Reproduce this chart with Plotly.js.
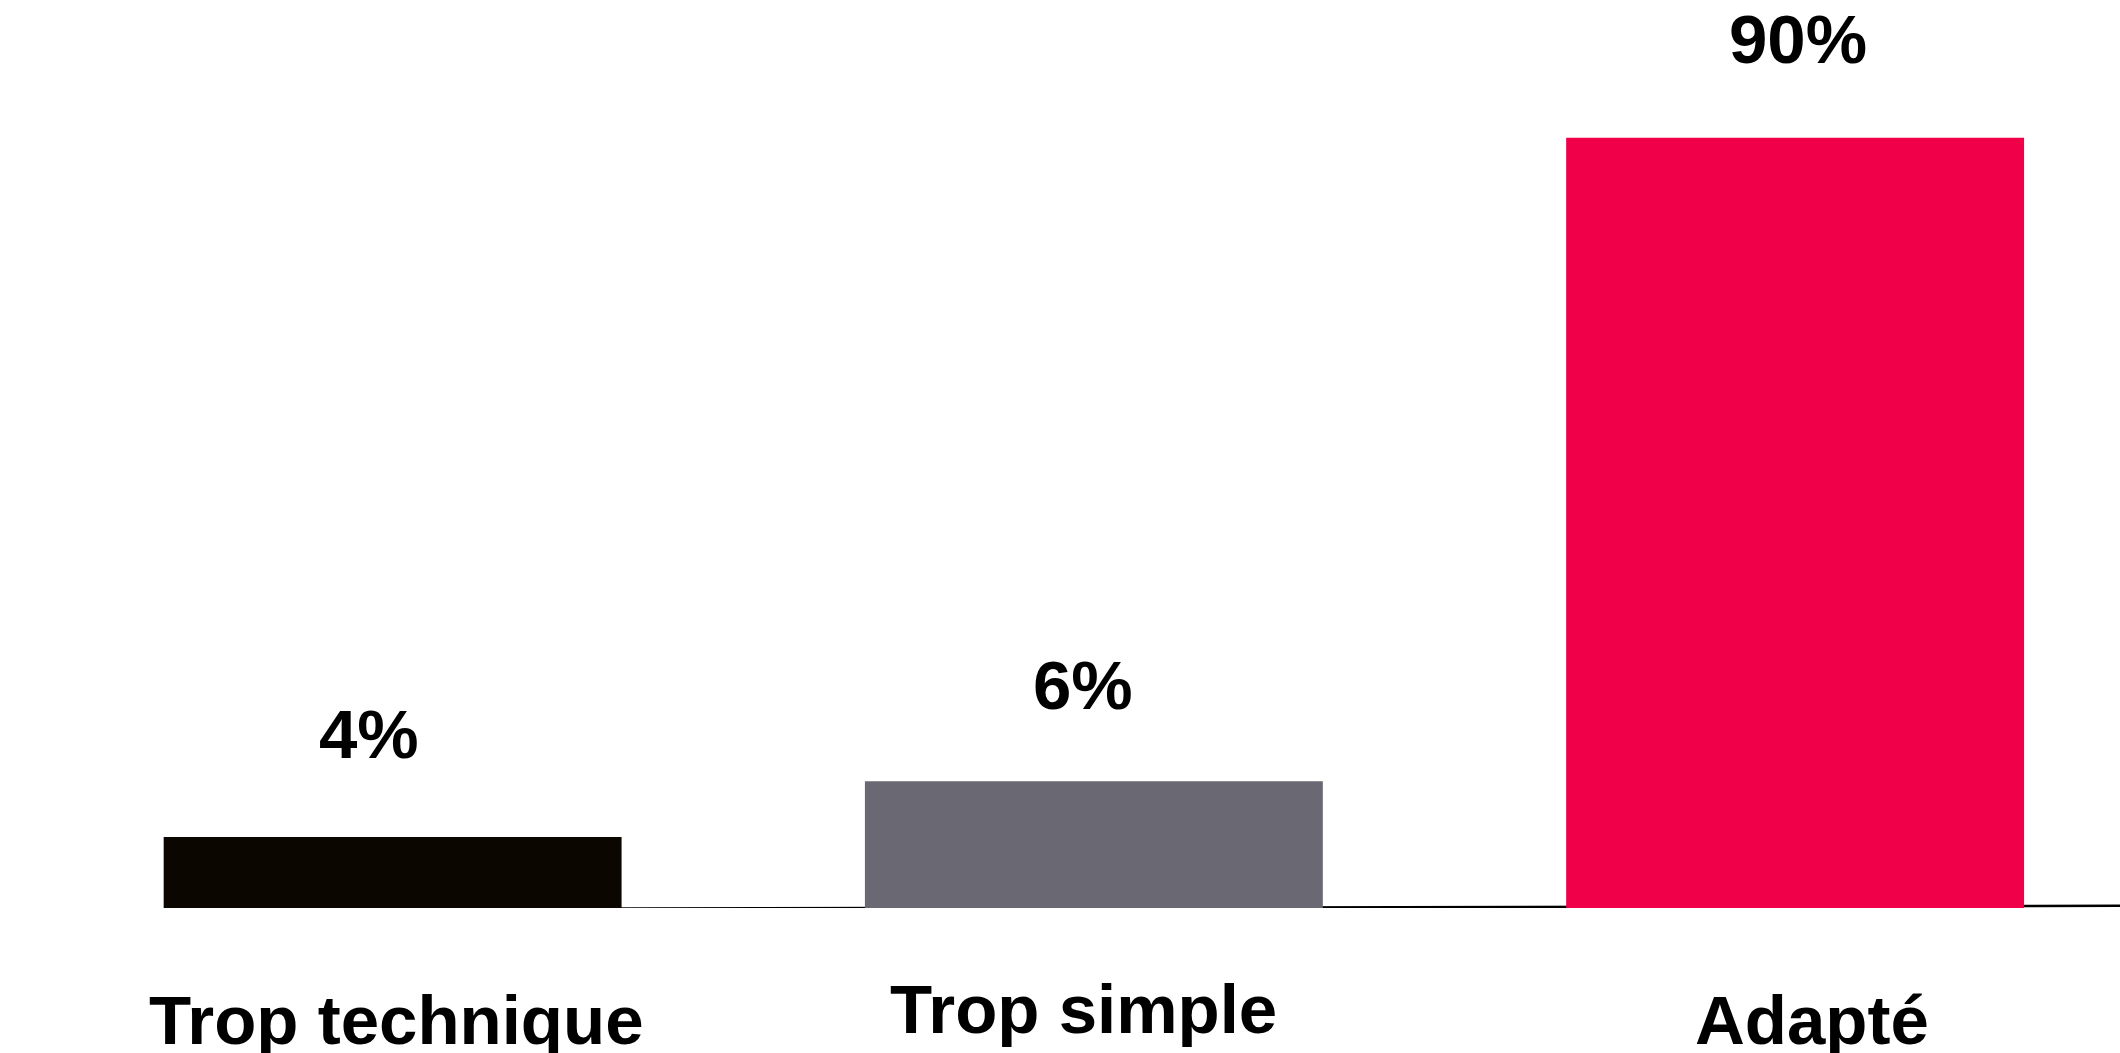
<!DOCTYPE html>
<html>
<head>
<meta charset="utf-8">
<script src="https://cdn.plot.ly/plotly-3.0.1.min.js"></script>
<style>
  html, body { margin: 0; padding: 0; background: #ffffff; }
  #chart { width: 2120px; height: 1053px; }
</style>
</head>
<body>
<div id="chart"></div>
<script>
// Categories and the percentages printed above the bars
const categories = ["Trop technique", "Trop simple", "Adapté"];
const percentLabels = [4, 6, 90];
// Bar heights as drawn in the picture (the infographic is not to scale),
// expressed on a scale where the tallest bar equals 90
const barHeights = [8.3, 14.8, 90];
const barColors = ["#0b0600", "#6a6873", "#f1004a"];

// Fine placement tweaks for the text labels (pixels)
const valueShiftX = [-24, -11, 3];
const valueShiftY = [62, 55, 58];
const catShiftX = [4, -10, 17];
const catShiftY = [-72, -61, -72];

const FONT = "Liberation Sans, Arial, Helvetica, sans-serif";

const trace = {
  type: "bar",
  x: categories,
  y: barHeights,
  marker: { color: barColors, line: { width: 0 } },
  hoverinfo: "skip",
  showlegend: false
};

const valueAnnotations = categories.map((c, i) => ({
  x: c, y: barHeights[i], xref: "x", yref: "y",
  text: percentLabels[i] + "%",
  showarrow: false, xanchor: "center", yanchor: "bottom",
  xshift: valueShiftX[i], yshift: valueShiftY[i],
  font: { family: FONT, size: 69, color: "#000000", weight: "bold" }
}));

const categoryAnnotations = categories.map((c, i) => ({
  x: c, y: 0, xref: "x", yref: "y",
  text: c,
  showarrow: false, xanchor: "center", yanchor: "top",
  xshift: catShiftX[i], yshift: catShiftY[i],
  font: { family: FONT, size: 69, color: "#000000", weight: "bold" }
}));

const layout = {
  width: 2120,
  height: 1053,
  margin: { l: 0, r: 0, t: 0, b: 145, pad: 0 },
  paper_bgcolor: "#ffffff",
  plot_bgcolor: "#ffffff",
  bargap: 0.347,
  xaxis: { visible: false, range: [-0.5599, 2.4633], fixedrange: true },
  yaxis: { visible: false, range: [0, 106.1], fixedrange: true },
  shapes: [{
    type: "line", xref: "paper", yref: "y",
    x0: 0, x1: 1, y0: -0.2, y1: 0.25,
    line: { color: "#000000", width: 2.5 },
    layer: "below"
  }],
  annotations: valueAnnotations.concat(categoryAnnotations)
};

Plotly.newPlot("chart", [trace], layout, { staticPlot: true, displayModeBar: false });
</script>
</body>
</html>
